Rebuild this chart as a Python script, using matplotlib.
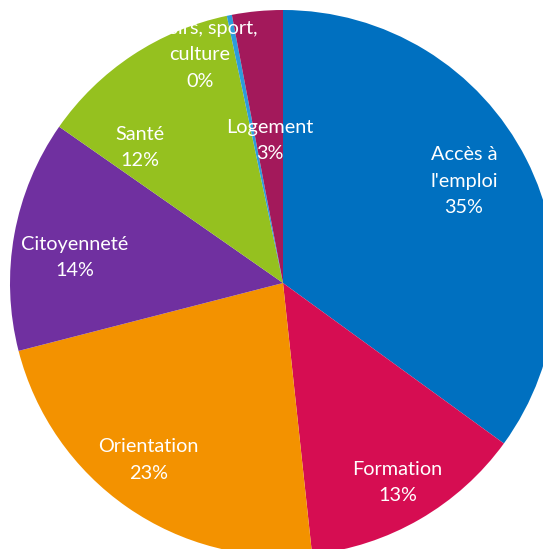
import numpy as np
import matplotlib.pyplot as plt

# Parts du camembert (sens horaire depuis le haut)
labels = ["Accès à\nl'emploi", "Formation", "Orientation", "Citoyenneté",
          "Santé", "Loisirs, sport,\nculture", "Logement"]
values = [35.0, 13.3, 22.7, 13.7, 12.0, 0.3, 3.0]
pct_text = ["35%", "13%", "23%", "14%", "12%", "0%", "3%"]
colors = ["#0070C0", "#D60D52", "#F39200", "#7030A0",
          "#95C11F", "#2D9CDB", "#A3195B"]

# position des étiquettes (rayon, angle en degrés)
label_r = [0.761, 0.844, 0.815, 0.768, 0.72, 0.889, 0.524]
label_a = [29.4, -60.2, -127.3, 172.9, 136.6, 110.0, 95.2]

fig = plt.figure(figsize=(5.43, 5.49), dpi=100)
ax = fig.add_axes([0, 0, 1, 1])

ax.pie(values, colors=colors, startangle=90, counterclock=False,
       radius=1.0, wedgeprops=dict(linewidth=0))

for lab, p, r, a in zip(labels, pct_text, label_r, label_a):
    x = r * np.cos(np.radians(a))
    y = r * np.sin(np.radians(a))
    ax.text(x, y, lab + "\n" + p, ha='center', va='center', color='white',
            fontsize=14.3, family='Lato', linespacing=1.65)

ax.set_xlim(-283 / 273, 260 / 273)
ax.set_ylim(-266 / 273, 283 / 273)
ax.set_aspect('auto')
ax.axis('off')

plt.savefig('out.png', dpi=100)
